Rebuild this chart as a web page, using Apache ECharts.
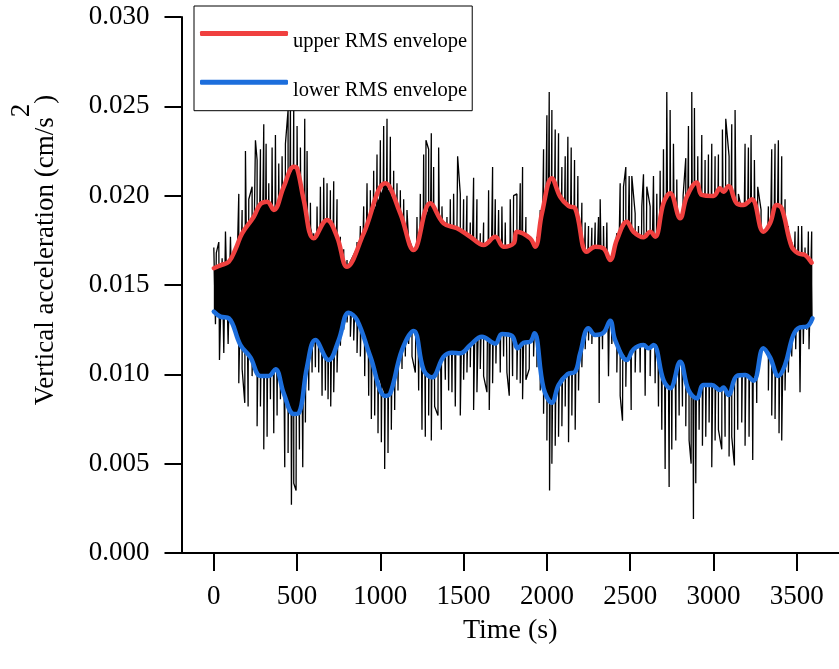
<!DOCTYPE html>
<html>
<head>
<meta charset="utf-8">
<script src="https://cdn.jsdelivr.net/npm/echarts@6/dist/echarts.min.js"></script>
<style>
  html, body { margin: 0; padding: 0; background: #fff; }
  #chart { width: 839px; height: 669px; }
</style>
</head>
<body>
<div id="chart"></div>
<script>
// Raw vertical acceleration record: local spike maxima and minima, [time s, cm/s^2]
const signalPeaks = [
  [0,0.0171],[15,0.0168],[30,0.0174],[50,0.0165],[70,0.0180],[100,0.0177],[130,0.0167],[150,0.0201],[170,0.0192],[190,0.0225],
  [210,0.0198],[230,0.0205],[250,0.0231],[260,0.0220],[280,0.0226],[300,0.0240],[314,0.0229],[330,0.0207],[350,0.0227],[370,0.0234],
  [390,0.0218],[410,0.0222],[430,0.0229],[446,0.0248],[460,0.0251],[480,0.0252],[500,0.0239],[520,0.0227],[546,0.0243],[560,0.0225],
  [580,0.0196],[600,0.0179],[620,0.0194],[640,0.0205],[660,0.0210],[680,0.0207],[700,0.0203],[720,0.0208],[740,0.0198],[760,0.0177],
  [780,0.0170],[800,0.0164],[820,0.0156],[840,0.0167],[860,0.0174],[880,0.0183],[900,0.0194],[920,0.0207],[940,0.0203],[960,0.0214],
  [980,0.0223],[1000,0.0231],[1020,0.0239],[1040,0.0243],[1060,0.0233],[1080,0.0214],[1100,0.0207],[1120,0.0203],[1140,0.0198],[1160,0.0192],
  [1170,0.0174],[1190,0.0171],[1220,0.0188],[1240,0.0201],[1260,0.0223],[1274,0.0231],[1290,0.0226],[1306,0.0235],[1320,0.0216],[1350,0.0227],
  [1370,0.0194],[1400,0.0188],[1420,0.0198],[1440,0.0201],[1464,0.0222],[1480,0.0201],[1500,0.0198],[1520,0.0200],[1540,0.0185],[1560,0.0210],
  [1580,0.0198],[1600,0.0179],[1620,0.0185],[1650,0.0203],[1674,0.0216],[1690,0.0198],[1710,0.0192],[1730,0.0194],[1750,0.0185],[1780,0.0198],
  [1800,0.0200],[1820,0.0201],[1840,0.0207],[1854,0.0216],[1874,0.0188],[1900,0.0177],[1920,0.0166],[1940,0.0177],[1960,0.0192],[1980,0.0226],
  [2000,0.0245],[2014,0.0258],[2030,0.0248],[2050,0.0237],[2070,0.0235],[2090,0.0216],[2110,0.0222],[2126,0.0233],[2146,0.0227],[2166,0.0220],
  [2186,0.0211],[2210,0.0196],[2230,0.0185],[2250,0.0183],[2270,0.0182],[2290,0.0185],[2310,0.0188],[2320,0.0198],[2340,0.0183],[2360,0.0185],
  [2380,0.0164],[2400,0.0162],[2420,0.0179],[2440,0.0207],[2460,0.0205],[2474,0.0216],[2494,0.0211],[2510,0.0211],[2530,0.0190],[2550,0.0183],
  [2570,0.0194],[2580,0.0212],[2600,0.0205],[2620,0.0194],[2640,0.0211],[2660,0.0201],[2680,0.0214],[2700,0.0226],[2720,0.0258],[2740,0.0248],
  [2760,0.0229],[2780,0.0209],[2800,0.0185],[2818,0.0200],[2834,0.0221],[2850,0.0239],[2870,0.0258],[2886,0.0249],[2906,0.0222],[2930,0.0234],
  [2950,0.0220],[2970,0.0223],[2990,0.0229],[3010,0.0222],[3030,0.0223],[3054,0.0237],[3074,0.0243],[3094,0.0222],[3110,0.0240],[3130,0.0248],
  [3150,0.0201],[3170,0.0192],[3190,0.0229],[3210,0.0227],[3226,0.0234],[3246,0.0220],[3266,0.0205],[3286,0.0192],[3306,0.0174],[3330,0.0194],
  [3350,0.0226],[3370,0.0229],[3390,0.0231],[3410,0.0222],[3430,0.0198],[3450,0.0183],[3470,0.0174],[3490,0.0180],[3510,0.0183],[3530,0.0183],
  [3550,0.0171],[3570,0.0180],[3590,0.0180]
];
const signalTroughs = [
  [10,0.0128],[34,0.0108],[60,0.0112],[86,0.0117],[110,0.0136],[130,0.0123],[150,0.0095],[170,0.0103],[186,0.0084],[206,0.0082],
  [230,0.0099],[260,0.0071],[280,0.0082],[300,0.0058],[320,0.0065],[340,0.0086],[360,0.0067],[380,0.0077],[400,0.0086],[426,0.0048],
  [446,0.0056],[466,0.0027],[480,0.0039],[494,0.0035],[514,0.0058],[534,0.0048],[550,0.0073],[570,0.0091],[590,0.0101],[610,0.0104],
  [630,0.0101],[650,0.0088],[670,0.0091],[686,0.0086],[702,0.0082],[720,0.0090],[740,0.0101],[760,0.0116],[780,0.0125],[800,0.0129],
  [820,0.0121],[840,0.0119],[860,0.0112],[880,0.0110],[906,0.0099],[930,0.0088],[946,0.0075],[966,0.0077],[986,0.0067],[1006,0.0062],
  [1026,0.0047],[1046,0.0056],[1066,0.0069],[1086,0.0080],[1106,0.0091],[1130,0.0103],[1150,0.0110],[1170,0.0117],[1190,0.0110],[1210,0.0101],
  [1230,0.0091],[1250,0.0069],[1270,0.0065],[1290,0.0077],[1306,0.0063],[1326,0.0082],[1346,0.0077],[1366,0.0069],[1390,0.0097],[1410,0.0091],
  [1430,0.0090],[1450,0.0082],[1480,0.0077],[1500,0.0097],[1520,0.0101],[1540,0.0104],[1560,0.0080],[1580,0.0090],[1600,0.0103],[1620,0.0099],
  [1640,0.0090],[1654,0.0080],[1674,0.0095],[1694,0.0106],[1720,0.0101],[1740,0.0110],[1760,0.0101],[1774,0.0088],[1794,0.0099],[1820,0.0097],
  [1840,0.0095],[1854,0.0086],[1874,0.0097],[1894,0.0103],[1920,0.0110],[1940,0.0104],[1960,0.0091],[1980,0.0078],[2000,0.0063],[2016,0.0035],
  [2030,0.0050],[2050,0.0060],[2070,0.0065],[2090,0.0071],[2110,0.0082],[2130,0.0062],[2150,0.0077],[2170,0.0069],[2190,0.0091],[2210,0.0104],
  [2230,0.0114],[2250,0.0119],[2270,0.0117],[2290,0.0123],[2314,0.0084],[2334,0.0114],[2350,0.0126],[2370,0.0099],[2390,0.0117],[2420,0.0101],
  [2440,0.0088],[2454,0.0074],[2474,0.0093],[2506,0.0080],[2530,0.0101],[2560,0.0101],[2590,0.0088],[2620,0.0099],[2650,0.0095],[2670,0.0082],
  [2690,0.0069],[2710,0.0047],[2734,0.0037],[2750,0.0058],[2774,0.0063],[2794,0.0077],[2814,0.0082],[2834,0.0071],[2854,0.0063],[2866,0.0050],
  [2880,0.0019],[2894,0.0039],[2914,0.0069],[2934,0.0060],[2954,0.0065],[2974,0.0073],[2990,0.0048],[3010,0.0063],[3030,0.0069],[3050,0.0058],
  [3070,0.0065],[3094,0.0054],[3110,0.0065],[3126,0.0049],[3146,0.0069],[3170,0.0073],[3190,0.0060],[3214,0.0065],[3236,0.0052],[3260,0.0084],
  [3286,0.0110],[3310,0.0119],[3330,0.0091],[3350,0.0077],[3370,0.0075],[3394,0.0067],[3410,0.0063],[3430,0.0091],[3450,0.0101],[3470,0.0110],
  [3494,0.0114],[3520,0.0090],[3540,0.0117],[3560,0.0125],[3574,0.0114],[3590,0.0129]
];

// Moving RMS envelopes, [time s, cm/s^2]
const upperRms = [
  [0,0.01594],[40,0.0161],[90,0.0163],[130,0.0170],[170,0.01789],[240,0.01882],[280,0.01953],[320,0.01966],[360,0.0192],[420,0.0205],
  [480,0.02162],[500,0.02153],[540,0.01976],[600,0.01761],[680,0.01864],[740,0.0177],[800,0.01602],[900,0.01789],[1030,0.02069],[1120,0.0190],
  [1200,0.01696],[1300,0.01957],[1380,0.01845],[1460,0.01817],[1540,0.0177],[1620,0.01724],[1690,0.0177],[1740,0.01714],[1800,0.01733],[1820,0.01798],
  [1900,0.01761],[1930,0.01714],[1970,0.0190],[2030,0.02097],[2080,0.01994],[2130,0.01942],[2170,0.01929],[2240,0.01686],[2290,0.01714],[2340,0.01705],
  [2380,0.0164],[2420,0.01752],[2480,0.01854],[2520,0.01798],[2580,0.01767],[2620,0.01798],[2650,0.0177],[2700,0.01957],[2740,0.02013],[2800,0.01873],
  [2840,0.01994],[2900,0.02073],[2930,0.02004],[3000,0.01998],[3040,0.02041],[3060,0.02022],[3090,0.02054],[3140,0.01957],[3180,0.01948],[3230,0.0198],
  [3300,0.01798],[3340,0.01845],[3380,0.01948],[3410,0.01929],[3470,0.01714],[3510,0.01677],[3550,0.01668],[3590,0.01625]
];
const lowerRms = [
  [0,0.01351],[40,0.01323],[90,0.01314],[160,0.01164],[220,0.01095],[280,0.00991],[330,0.00991],[370,0.01028],[420,0.00894],[480,0.00778],
  [510,0.00782],[560,0.01043],[610,0.01192],[690,0.0108],[750,0.01192],[810,0.01345],[860,0.01304],[940,0.01099],[1030,0.00879],[1060,0.00894],
  [1130,0.01136],[1200,0.01243],[1260,0.01024],[1310,0.00983],[1380,0.01099],[1430,0.01121],[1480,0.01118],[1540,0.01164],[1610,0.01211],[1690,0.01172],
  [1730,0.01226],[1790,0.01215],[1825,0.01146],[1860,0.01177],[1900,0.01183],[1925,0.0123],[1980,0.00922],[2030,0.00841],[2070,0.0094],[2125,0.01002],
  [2170,0.01015],[2200,0.01118],[2250,0.01258],[2290,0.0122],[2340,0.01233],[2380,0.013],[2410,0.01192],[2480,0.0108],[2520,0.0114],[2580,0.01164],
  [2610,0.01146],[2640,0.01164],[2700,0.00968],[2740,0.00922],[2800,0.01071],[2850,0.00912],[2900,0.00866],[2940,0.0094],[2990,0.0094],[3040,0.00912],
  [3060,0.00927],[3090,0.00884],[3140,0.00991],[3190,0.00996],[3240,0.00964],[3300,0.01146],[3340,0.01095],[3390,0.00991],[3430,0.01052],[3480,0.0122],
  [3520,0.01263],[3560,0.01267],[3595,0.01314]
];

// Axis ticks
const timeTicks = [0, 500, 1000, 1500, 2000, 2500, 3000, 3500];
const accelTicks = [0, 0.005, 0.010, 0.015, 0.020, 0.025, 0.030];

// The record alternates between maxima and minima, so merge them in time order
const signal = signalPeaks.concat(signalTroughs).sort((a, b) => a[0] - b[0]);

const FONT = 'Liberation Serif';
const chart = echarts.init(document.getElementById('chart'), null, { renderer: 'canvas' });

// Densely oscillating core of the record, filled between the two RMS envelopes
function renderCore(params, api) {
  const pts = [];
  upperRms.forEach(p => pts.push(api.coord(p)));
  for (let i = lowerRms.length - 1; i >= 0; i--) pts.push(api.coord(lowerRms[i]));
  return {
    type: 'polygon',
    shape: { points: pts },
    style: { fill: '#000', stroke: null }
  };
}

chart.setOption({
  animation: false,
  backgroundColor: '#fff',
  grid: { left: 181, right: 0, top: 17, bottom: 116, containLabel: false },
  legend: {
    data: ['upper RMS envelope', 'lower RMS envelope'],
    orient: 'vertical',
    left: 194,
    top: 6,
    padding: [9, 5, 10, 6],
    itemGap: 11.7,
    itemWidth: 88,
    itemHeight: 5,
    icon: 'roundRect',
    backgroundColor: '#fff',
    borderColor: '#000',
    borderWidth: 1,
    borderRadius: 0,
    formatter: '{t|{name}}',
    textStyle: {
      fontFamily: FONT, fontSize: 20.5, color: '#000',
      rich: { t: { fontFamily: FONT, fontSize: 20.5, color: '#000', lineHeight: 21, padding: [16, 0, 0, 0] } }
    }
  },
  xAxis: {
    type: 'value',
    min: -194,
    max: 3754,
    name: 'Time (s)',
    nameLocation: 'middle',
    nameGap: 64,
    nameMoveOverlap: false,
    nameTextStyle: { fontFamily: FONT, fontSize: 28, color: '#000' },
    splitLine: { show: false },
    axisLine: { onZero: false, lineStyle: { color: '#000', width: 2 } },
    axisTick: { show: true, customValues: timeTicks, length: 18, lineStyle: { color: '#000', width: 2 } },
    axisLabel: {
      customValues: timeTicks, margin: 30, fontFamily: FONT, fontSize: 27, color: '#000',
      formatter: v => String(v)
    }
  },
  yAxis: {
    type: 'value',
    min: 0,
    max: 0.030,
    interval: 0.005,
    name: '{lead|Vertical acceleration (cm/s}{sup|2}{a|)}',
    nameLocation: 'middle',
    nameGap: 120,
    nameMoveOverlap: false,
    nameRotate: 90,
    nameTextStyle: {
      fontFamily: FONT, fontSize: 27, color: '#000',
      rich: {
        lead: { fontFamily: FONT, fontSize: 27, color: '#000', lineHeight: 31, height: 31, verticalAlign: 'bottom', padding: [0, 0, 0, 70] },
        a: { fontFamily: FONT, fontSize: 27, color: '#000', lineHeight: 31, height: 31, verticalAlign: 'bottom' },
        sup: { fontFamily: FONT, fontSize: 27, color: '#000', lineHeight: 52, height: 24, verticalAlign: 'top' }
      }
    },
    splitLine: { show: false },
    axisLine: { show: true, onZero: false, lineStyle: { color: '#000', width: 2 } },
    axisTick: { show: true, length: 17, lineStyle: { color: '#000', width: 2 } },
    axisLabel: {
      margin: 32, fontFamily: FONT, fontSize: 27, color: '#000',
      formatter: v => v.toFixed(3)
    }
  },
  series: [
    {
      name: 'core',
      type: 'custom',
      coordinateSystem: 'cartesian2d',
      renderItem: renderCore,
      data: [[0, 0.015]],
      silent: true,
      z: 1
    },
    {
      name: 'signal',
      type: 'line',
      data: signal,
      symbol: 'none',
      sampling: null,
      lineStyle: { color: '#000', width: 1.3 },
      itemStyle: { color: '#000' },
      z: 2
    },
    {
      name: 'upper RMS envelope',
      type: 'line',
      data: upperRms,
      symbol: 'none',
      smooth: 0.4,
      color: '#F0403F',
      lineStyle: { color: '#F0403F', width: 4.5, cap: 'round', join: 'round' },
      z: 3
    },
    {
      name: 'lower RMS envelope',
      type: 'line',
      data: lowerRms,
      symbol: 'none',
      smooth: 0.4,
      color: '#1C6EDC',
      lineStyle: { color: '#1C6EDC', width: 4.5, cap: 'round', join: 'round' },
      z: 3
    }
  ]
});
</script>
</body>
</html>
